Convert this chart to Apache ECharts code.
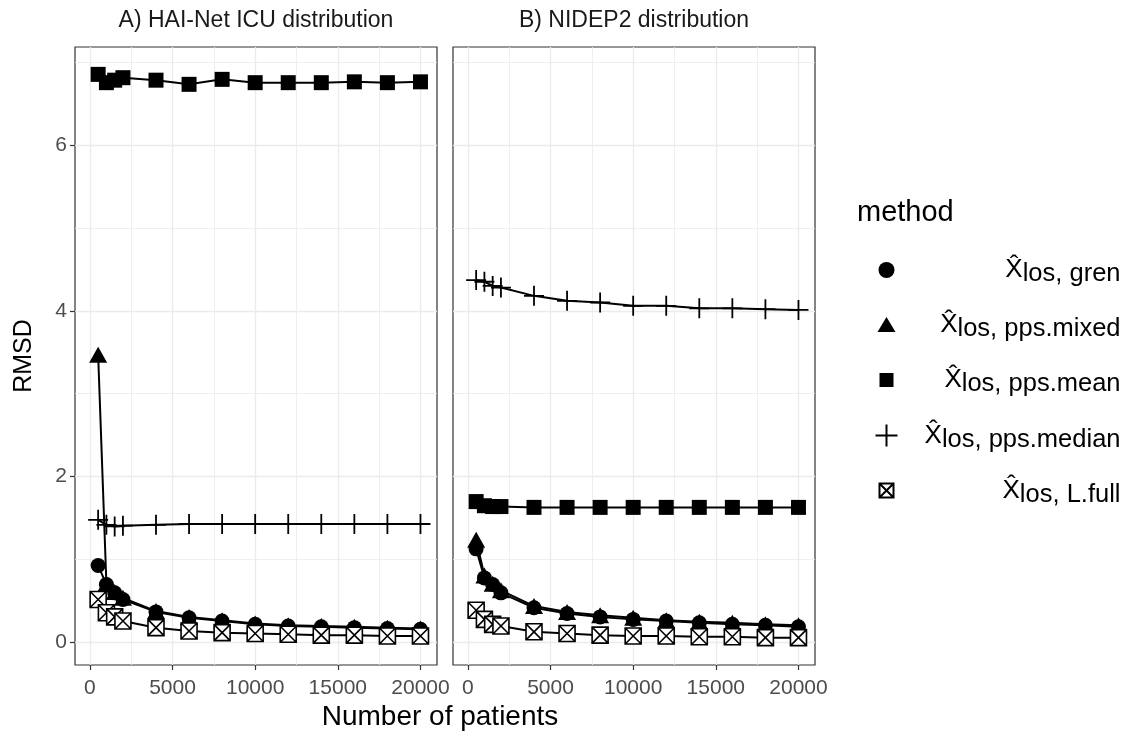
<!DOCTYPE html>
<html>
<head>
<meta charset="utf-8">
<script src="https://cdn.jsdelivr.net/npm/echarts@6/dist/echarts.min.js"></script>
<style>
html,body{margin:0;padding:0;background:#fff;}
#chart{width:1125px;height:738px;}
</style>
</head>
<body>
<div id="chart"></div>
<script>
// ---- data ----
const patients = [500, 1000, 1500, 2000, 4000, 6000, 8000, 10000, 12000, 14000, 16000, 18000, 20000];
const methods = ['gren', 'pps.mixed', 'pps.mean', 'pps.median', 'L.full'];
const panelTitles = ['A) HAI-Net ICU distribution', 'B) NIDEP2 distribution'];
const xTickValues = [0, 5000, 10000, 15000, 20000];
const yTickValues = [0, 2, 4, 6];

// A) HAI-Net ICU
const haiGren   = [0.93, 0.70, 0.60, 0.52, 0.37, 0.30, 0.26, 0.22, 0.20, 0.19, 0.18, 0.17, 0.16];
const haiMixed  = [3.47, 0.71, 0.61, 0.54, 0.38, 0.31, 0.27, 0.23, 0.21, 0.20, 0.19, 0.18, 0.17];
const haiMean   = [6.85, 6.75, 6.78, 6.81, 6.78, 6.73, 6.79, 6.75, 6.75, 6.75, 6.76, 6.75, 6.76];
const haiMedian = [1.48, 1.42, 1.40, 1.41, 1.42, 1.43, 1.43, 1.43, 1.43, 1.43, 1.43, 1.43, 1.43];
const haiLfull  = [0.52, 0.36, 0.31, 0.26, 0.18, 0.14, 0.12, 0.11, 0.10, 0.09, 0.09, 0.08, 0.08];

// B) NIDEP2
const nidGren   = [1.13, 0.78, 0.70, 0.60, 0.42, 0.35, 0.31, 0.28, 0.26, 0.24, 0.22, 0.21, 0.19];
const nidMixed  = [1.24, 0.81, 0.71, 0.63, 0.44, 0.37, 0.33, 0.30, 0.27, 0.25, 0.24, 0.22, 0.21];
const nidMean   = [1.70, 1.65, 1.64, 1.64, 1.63, 1.63, 1.63, 1.63, 1.63, 1.63, 1.63, 1.63, 1.63];
const nidMedian = [4.37, 4.35, 4.30, 4.28, 4.18, 4.12, 4.10, 4.06, 4.06, 4.03, 4.03, 4.02, 4.01];
const nidLfull  = [0.39, 0.28, 0.22, 0.20, 0.13, 0.11, 0.09, 0.08, 0.08, 0.07, 0.07, 0.06, 0.06];

const panels = [
  [haiGren, haiMixed, haiMean, haiMedian, haiLfull],
  [nidGren, nidMixed, nidMean, nidMedian, nidLfull]
];

// ---- styling ----
const FONT = '"Liberation Sans", Arial, sans-serif';
const symbolDefs = {
  'gren':       {symbol: 'circle', size: 15, fill: '#000', bw: 0,
                 icon: 'path://M0,0 M22,22 M3,11 A8,8 0 1 1 19,11 A8,8 0 1 1 3,11 Z'},
  'pps.mixed':  {symbol: 'triangle', size: [18, 16], fill: '#000', bw: 0,
                 icon: 'path://M0,0 M22,22 M11,3 L20,18 L2,18 Z'},
  'pps.mean':   {symbol: 'rect', size: 15, fill: '#000', bw: 0,
                 icon: 'path://M0,0 M22,22 M4,4 L18,4 L18,18 L4,18 Z'},
  'pps.median': {symbol: 'path://M5,0 L5,10 M0,5 L10,5', size: 20, fill: 'none', bw: 1.8,
                 icon: 'path://M0,0 M22,22 M11,0 L11,22 M0,11 L22,11'},
  'L.full':     {symbol: 'path://M0,0 L10,0 L10,10 L0,10 Z M0,0 L10,10 M10,0 L0,10', size: 16, fill: '#fff', bw: 1.6,
                 icon: 'path://M0,0 M22,22 M4,4 L18,4 L18,18 L4,18 Z M4,4 L18,18 M18,4 L4,18'}
};

const zip = (xs, ys) => xs.map((x, i) => [x, ys[i]]);

const grids = [
  {left: 75, top: 47, width: 362, height: 618, show: true, borderColor: '#333', borderWidth: 1.2, backgroundColor: '#fff'},
  {left: 453, top: 47, width: 362, height: 618, show: true, borderColor: '#333', borderWidth: 1.2, backgroundColor: '#fff'}
];

const gridLine = {show: true, lineStyle: {color: '#ebebeb', width: 1.3}};
const minorGridLine = {show: true, lineStyle: {color: '#ebebeb', width: 0.8}};

const xAxes = [0, 1].map(i => ({
  type: 'value', gridIndex: i, min: -900, max: 21000,
  axisLine: {show: false, onZero: false},
  axisTick: {show: true, customValues: xTickValues, length: 5, lineStyle: {color: '#333', width: 1.2}},
  axisLabel: {show: true, customValues: xTickValues, formatter: v => String(v),
              color: '#4d4d4d', fontSize: 21, fontFamily: FONT, margin: 13},
  splitLine: gridLine,
  minorTick: {show: false, splitNumber: 2},
  minorSplitLine: minorGridLine
}));

const yAxes = [0, 1].map(i => ({
  type: 'value', gridIndex: i, min: -0.27, max: 7.18, splitNumber: 4,
  axisLine: {show: false, onZero: false},
  axisTick: {show: i === 0, customValues: yTickValues, length: 5, lineStyle: {color: '#333', width: 1.2}},
  axisLabel: {show: i === 0, customValues: yTickValues, color: '#4d4d4d', fontSize: 21, fontFamily: FONT, margin: 8},
  splitLine: gridLine,
  minorTick: {show: false, splitNumber: 2},
  minorSplitLine: minorGridLine,
  name: i === 0 ? 'RMSD' : '',
  nameLocation: 'middle', nameRotate: 90, nameGap: 38,
  nameTextStyle: {color: '#000', fontSize: 25, fontFamily: FONT}
}));

const series = [];
panels.forEach((panel, p) => {
  panel.forEach((vals, m) => {
    series.push({
      type: 'line', name: 'line-' + methods[m] + '-' + p,
      xAxisIndex: p, yAxisIndex: p,
      data: zip(patients, vals),
      symbol: 'none', silent: true, z: 2,
      lineStyle: {color: '#000', width: 2},
      itemStyle: {color: '#000'}
    });
  });
});
panels.forEach((panel, p) => {
  panel.forEach((vals, m) => {
    const d = symbolDefs[methods[m]];
    series.push({
      type: 'scatter', name: methods[m],
      xAxisIndex: p, yAxisIndex: p,
      data: zip(patients, vals),
      symbol: d.symbol, symbolSize: d.size,
      z: 3 + m,
      itemStyle: {color: d.fill, borderColor: '#000', borderWidth: d.bw, opacity: 1},
      emphasis: {disabled: true}
    });
  });
});

const chart = echarts.init(document.getElementById('chart'), null, {renderer: 'canvas'});
chart.setOption({
  animation: false,
  backgroundColor: '#fff',
  grid: grids,
  xAxis: xAxes,
  yAxis: yAxes,
  legend: {
    orient: 'vertical', left: 868, top: 252,
    itemWidth: 22, itemHeight: 22, itemGap: 25,
    selectedMode: false,
    data: methods.map(m => ({name: m, icon: symbolDefs[m].icon})),
    formatter: n => '{x|X\u0302}{s|los, ' + n + '}',
    textStyle: {
      width: 218, fontFamily: FONT, color: '#000',
      rich: {
        x: {fontSize: 26, fontFamily: FONT, color: '#000', align: 'right', padding: [0, 0, 0, 0]},
        s: {fontSize: 25.5, fontFamily: FONT, color: '#000', align: 'right', padding: [8, 0, 0, 0]}
      }
    }
  },
  graphic: [
    {type: 'text', x: 256, y: 21, style: {text: panelTitles[0], fontSize: 23, fontFamily: FONT, fill: '#1a1a1a', textAlign: 'center', textVerticalAlign: 'middle'}},
    {type: 'text', x: 634, y: 21, style: {text: panelTitles[1], fontSize: 23, fontFamily: FONT, fill: '#1a1a1a', textAlign: 'center', textVerticalAlign: 'middle'}},
    {type: 'text', x: 440, y: 717, style: {text: 'Number of patients', fontSize: 28, fontFamily: FONT, fill: '#000', textAlign: 'center', textVerticalAlign: 'middle'}},
    {type: 'text', x: 857, y: 213, style: {text: 'method', fontSize: 29, fontFamily: FONT, fill: '#000', textAlign: 'left', textVerticalAlign: 'middle'}}
  ],
  series: series
});
</script>
</body>
</html>
